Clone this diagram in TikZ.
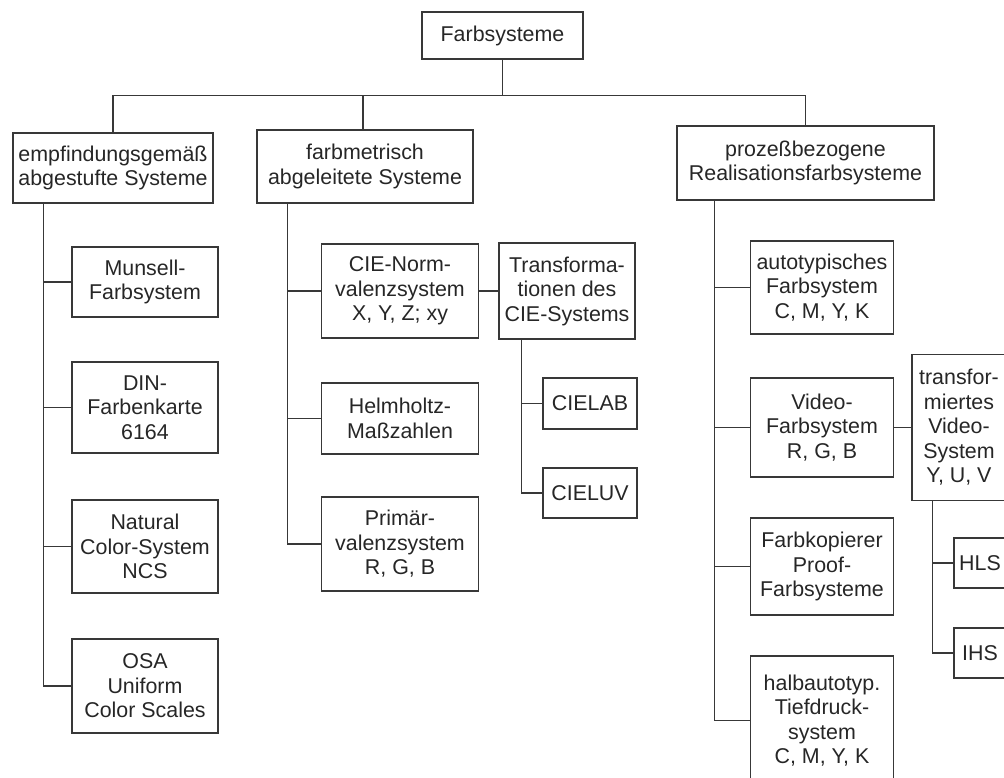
\documentclass[tikz,border=0pt]{standalone}
\usepackage{fontspec}
\setmainfont{Liberation Sans}
\begin{document}
\begin{tikzpicture}[x=1pt,y=-1pt,
	rect/.style={shape=rectangle, draw=black!78, line width=1.3pt, inner sep=0pt, align=center, text=black!85, font=\fontsize{21.4}{24.5}\selectfont},
	link/.style={draw=black!78, line width=1.3pt}]
		\useasboundingbox (0,0) rectangle (1004,777);
		\clip (0,0) rectangle (1004,777);
		\node (farb) at (502.5,35.5) [rect, minimum width=161, minimum height=47] {Farbsysteme};
		\node (emp) at (113,168) [rect, minimum width=200, minimum height=70] {empfindungsgemäß\\abgestufte Systeme};
		\node (fm) at (365,166.5) [rect, minimum width=216, minimum height=73] {farbmetrisch\\abgeleitete Systeme};
		\node (proz) at (805.5,163) [rect, minimum width=257, minimum height=74] {prozeßbezogene\\Realisationsfarbsysteme};
		\node (munsell) at (145,282) [rect, minimum width=146, minimum height=70] {Munsell-\\Farbsystem};
		\node (din) at (145,407.5) [rect, minimum width=146, minimum height=91] {DIN-\\Farbenkarte\\6164};
		\node (ncs) at (145,546.5) [rect, minimum width=146, minimum height=93] {Natural\\Color-System\\NCS};
		\node (osa) at (145,686) [rect, minimum width=146, minimum height=94] {OSA\\Uniform\\Color Scales};
		\node (cie) at (400,291) [rect, minimum width=157, minimum height=94] {CIE-Norm-\\valenzsystem\\X, Y, Z; xy};
		\node (helm) at (400,418.5) [rect, minimum width=157, minimum height=71] {Helmholtz-\\Maßzahlen};
		\node (prim) at (400,544) [rect, minimum width=157, minimum height=94] {Primär-\\valenzsystem\\R, G, B};
		\node (trans) at (567,291) [rect, minimum width=136, minimum height=96] {Transforma-\\tionen des\\CIE-Systems};
		\node (cielab) at (590,403.5) [rect, minimum width=94, minimum height=51] {CIELAB};
		\node (cieluv) at (590,493) [rect, minimum width=94, minimum height=50] {CIELUV};
		\node (auto) at (822,287.5) [rect, minimum width=143, minimum height=93] {autotypisches\\Farbsystem\\C, M, Y, K};
		\node (video) at (822,427.5) [rect, minimum width=143, minimum height=99] {Video-\\Farbsystem\\R, G, B};
		\node (kopier) at (822,566.5) [rect, minimum width=143, minimum height=97] {Farbkopierer\\Proof-\\Farbsysteme};
		\node (halb) at (822,720.5) [rect, minimum width=143, minimum height=129] {halbautotyp.\\Tiefdruck-\\system\\C, M, Y, K};
		\node (tvid) at (959,427.5) [rect, minimum width=94, minimum height=146] {transfor-\\miertes\\Video-\\System\\Y, U, V};
		\node (hls) at (980,563) [rect, minimum width=52, minimum height=50] {HLS};
		\node (ihs) at (980,653) [rect, minimum width=52, minimum height=50] {IHS};
		\draw [link] (farb.south) -- ++(0,36) coordinate (bus);
		\draw [link] (emp.north) |- (bus) -| (proz.north);
		\draw [link] ([xshift=-2]fm.north) -- ([xshift=-2]fm.north |- bus);
		\coordinate (e1) at ([xshift=31]emp.south west);
		\coordinate (f1) at ([xshift=31]fm.south west);
		\coordinate (p1) at ([xshift=38]proz.south west);
		\coordinate (t1) at ([xshift=23]trans.south west);
		\coordinate (v1) at ([xshift=21]tvid.south west);
		\foreach \n in {munsell,din,ncs,osa} \draw [link] (e1) |- (\n.west);
		\foreach \n in {cie,helm,prim} \draw [link] (f1) |- (\n.west);
		\foreach \n in {cielab,cieluv} \draw [link] (t1) |- (\n.west);
		\foreach \n in {auto,video,kopier,halb} \draw [link] (p1) |- (\n.west);
		\foreach \n in {hls,ihs} \draw [link] (v1) |- (\n.west);
		\draw [link] (cie) -- (trans);
		\draw [link] (video) -- (tvid);
		\end{tikzpicture}
\end{document}
